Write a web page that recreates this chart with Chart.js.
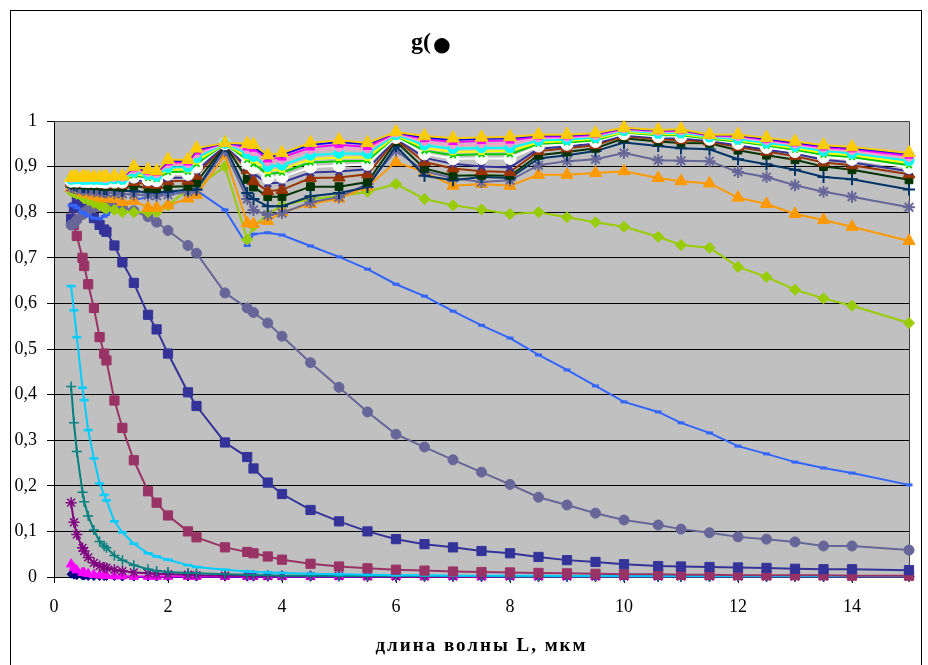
<!DOCTYPE html>
<html>
<head>
<meta charset="utf-8">
<script src="https://cdn.jsdelivr.net/npm/chart.js@4.4.1/dist/chart.umd.min.js"></script>
<style>
  html, body { margin: 0; padding: 0; background: #fff; }
  canvas { display: block; }
</style>
</head>
<body>
<canvas id="chart" width="928" height="665"></canvas>
<script>
// Wavelength grid, µm
const wavelengths = [0.3, 0.35, 0.4, 0.5, 0.53, 0.6, 0.7, 0.8, 0.88, 0.92,
  1.06, 1.2, 1.4, 1.65, 1.8, 2.0, 2.35, 2.5, 3.0, 3.39,
  3.5, 3.75, 4.0, 4.5, 5.0, 5.5, 6.0, 6.5, 7.0, 7.5,
  8.0, 8.5, 9.0, 9.5, 10.0, 10.6, 11.0, 11.5, 12.0, 12.5,
  13.0, 13.5, 14.0, 15.0];

const xTickValues = [0, 2, 4, 6, 8, 10, 12, 14];

// Asymmetry factor g(λ), one array per curve
const gNavyDiamond = [0.006, 0.004, 0.003, 0.002, 0.002, 0.001, 0.001, 0.001, 0.001, 0.001,
  0.001, 0, 0, 0, 0, 0, 0, 0, 0, 0,
  0, 0, 0, 0, 0, 0, 0, 0, 0, 0,
  0, 0, 0, 0, 0, 0, 0, 0, 0, 0,
  0, 0, 0, 0];
const gMagentaTri = [0.028, 0.02, 0.015, 0.01, 0.009, 0.007, 0.005, 0.004, 0.003, 0.003,
  0.002, 0.002, 0.001, 0.001, 0.001, 0.001, 0.001, 0.001, 0.001, 0.001,
  0.001, 0.001, 0.001, 0.001, 0.001, 0.001, 0.001, 0.001, 0.001, 0.001,
  0.001, 0.001, 0.001, 0.001, 0.001, 0.001, 0.001, 0.001, 0.001, 0.001,
  0.001, 0.001, 0.001, 0.001];
const gPurpleStar = [0.163, 0.12, 0.093, 0.064, 0.057, 0.043, 0.031, 0.024, 0.021, 0.02,
  0.016, 0.013, 0.01, 0.008, 0.007, 0.006, 0.005, 0.004, 0.003, 0.003,
  0.003, 0.002, 0.002, 0.002, 0.002, 0.001, 0.001, 0.001, 0.001, 0.001,
  0.001, 0.001, 0.001, 0.001, 0.001, 0.001, 0.001, 0.001, 0.001, 0.001,
  0.001, 0.001, 0.001, 0.001];
const gTealPlus = [0.418, 0.338, 0.275, 0.186, 0.165, 0.134, 0.103, 0.078, 0.068, 0.064,
  0.047, 0.037, 0.026, 0.017, 0.013, 0.011, 0.009, 0.008, 0.006, 0.005,
  0.004, 0.004, 0.003, 0.003, 0.002, 0.002, 0.002, 0.002, 0.002, 0.002,
  0.001, 0.001, 0.001, 0.001, 0.001, 0.001, 0.001, 0.001, 0.001, 0.001,
  0.001, 0.001, 0.001, 0.001];
const gSkyDash = [0.638, 0.585, 0.526, 0.415, 0.388, 0.322, 0.26, 0.205, 0.18, 0.168,
  0.122, 0.098, 0.073, 0.052, 0.045, 0.038, 0.026, 0.022, 0.016, 0.012,
  0.011, 0.01, 0.009, 0.007, 0.006, 0.005, 0.004, 0.004, 0.003, 0.003,
  0.003, 0.003, 0.002, 0.002, 0.002, 0.002, 0.002, 0.002, 0.002, 0.002,
  0.002, 0.002, 0.002, 0.002];
const gPlumSquare = [0.786, 0.772, 0.748, 0.70, 0.682, 0.642, 0.59, 0.526, 0.49, 0.475,
  0.387, 0.327, 0.256, 0.188, 0.163, 0.135, 0.10, 0.087, 0.065, 0.055,
  0.052, 0.045, 0.038, 0.029, 0.023, 0.019, 0.016, 0.014, 0.012, 0.011,
  0.01, 0.009, 0.008, 0.007, 0.006, 0.006, 0.005, 0.005, 0.004, 0.004,
  0.004, 0.004, 0.003, 0.003];
const gNavySquare = [0.785, 0.81, 0.822, 0.818, 0.812, 0.80, 0.787, 0.772, 0.762, 0.757,
  0.727, 0.69, 0.645, 0.575, 0.543, 0.49, 0.405, 0.375, 0.295, 0.263,
  0.238, 0.207, 0.182, 0.147, 0.122, 0.10, 0.083, 0.072, 0.065, 0.057,
  0.052, 0.044, 0.037, 0.033, 0.028, 0.024, 0.023, 0.022, 0.021, 0.02,
  0.018, 0.017, 0.017, 0.015];
const gSlateCircle = [0.772, 0.775, 0.783, 0.795, 0.80, 0.805, 0.81, 0.812, 0.812, 0.812,
  0.812, 0.81, 0.803, 0.79, 0.778, 0.76, 0.727, 0.71, 0.623, 0.59,
  0.58, 0.557, 0.528, 0.47, 0.416, 0.362, 0.313, 0.285, 0.257, 0.23,
  0.203, 0.175, 0.158, 0.14, 0.125, 0.114, 0.105, 0.097, 0.088, 0.083,
  0.077, 0.068, 0.068, 0.059];
const gBlueDash = [0.815, 0.815, 0.81, 0.80, 0.797, 0.792, 0.787, 0.786, 0.791, 0.795,
  0.808, 0.818, 0.826, 0.834, 0.837, 0.84, 0.845, 0.848, 0.805, 0.727,
  0.752, 0.755, 0.75, 0.726, 0.702, 0.675, 0.642, 0.616, 0.583, 0.552,
  0.524, 0.487, 0.454, 0.419, 0.384, 0.362, 0.338, 0.316, 0.287, 0.27,
  0.252, 0.239, 0.228, 0.202];
const gLimeDiamond = [0.846, 0.843, 0.84, 0.833, 0.83, 0.826, 0.82, 0.815, 0.81, 0.808,
  0.805, 0.80, 0.80, 0.80, 0.80, 0.815, 0.85, 0.855, 0.90, 0.74,
  0.77, 0.795, 0.815, 0.829, 0.835, 0.845, 0.862, 0.829, 0.815, 0.806,
  0.796, 0.80, 0.789, 0.778, 0.768, 0.746, 0.728, 0.722, 0.68, 0.658,
  0.63, 0.611, 0.595, 0.557];
const gOrangeTri = [0.853, 0.853, 0.85, 0.845, 0.843, 0.84, 0.836, 0.833, 0.831, 0.83,
  0.829, 0.822, 0.825, 0.81, 0.81, 0.815, 0.83, 0.838, 0.925, 0.776,
  0.774, 0.781, 0.80, 0.818, 0.83, 0.856, 0.91, 0.888, 0.858, 0.862,
  0.858, 0.882, 0.882, 0.886, 0.89, 0.875, 0.868, 0.863, 0.832, 0.818,
  0.796, 0.783, 0.768, 0.737];
const gSlateStar = [0.855, 0.853, 0.852, 0.85, 0.849, 0.848, 0.846, 0.845, 0.844, 0.843,
  0.842, 0.84, 0.839, 0.837, 0.836, 0.838, 0.845, 0.849, 0.935, 0.829,
  0.805, 0.794, 0.798, 0.822, 0.833, 0.862, 0.935, 0.89, 0.875, 0.866,
  0.87, 0.903, 0.912, 0.916, 0.93, 0.914, 0.913, 0.912, 0.888, 0.877,
  0.859, 0.845, 0.834, 0.811];
const gNavyPlus = [0.862, 0.86, 0.858, 0.856, 0.855, 0.854, 0.853, 0.852, 0.851, 0.85,
  0.849, 0.847, 0.846, 0.844, 0.843, 0.845, 0.849, 0.85, 0.945, 0.842,
  0.829, 0.813, 0.813, 0.835, 0.842, 0.855, 0.945, 0.88, 0.87, 0.877,
  0.875, 0.918, 0.925, 0.934, 0.953, 0.945, 0.94, 0.938, 0.916, 0.905,
  0.893, 0.877, 0.872, 0.85];
const gDarkGreen = [0.862, 0.862, 0.861, 0.86, 0.86, 0.859, 0.858, 0.858, 0.857, 0.857,
  0.856, 0.855, 0.858, 0.853, 0.852, 0.856, 0.857, 0.865, 0.948, 0.872,
  0.855, 0.834, 0.834, 0.856, 0.856, 0.866, 0.955, 0.896, 0.88, 0.881,
  0.88, 0.925, 0.932, 0.94, 0.962, 0.955, 0.952, 0.951, 0.936, 0.925,
  0.915, 0.90, 0.893, 0.871];
const gBrown = [0.865, 0.865, 0.864, 0.863, 0.863, 0.863, 0.862, 0.862, 0.861, 0.861,
  0.861, 0.86, 0.866, 0.861, 0.86, 0.868, 0.869, 0.88, 0.949, 0.893,
  0.868, 0.846, 0.849, 0.875, 0.876, 0.883, 0.959, 0.91, 0.896, 0.89,
  0.888, 0.934, 0.94, 0.947, 0.967, 0.96, 0.958, 0.955, 0.943, 0.933,
  0.923, 0.909, 0.903, 0.883];
const gIndigo = [0.866, 0.867, 0.866, 0.865, 0.865, 0.865, 0.864, 0.864, 0.863, 0.863,
  0.863, 0.863, 0.871, 0.866, 0.864, 0.875, 0.876, 0.889, 0.949, 0.899,
  0.885, 0.863, 0.865, 0.887, 0.889, 0.894, 0.962, 0.919, 0.906, 0.90,
  0.898, 0.939, 0.944, 0.951, 0.969, 0.963, 0.962, 0.957, 0.947, 0.937,
  0.928, 0.915, 0.909, 0.89];
const gWhite = [0.868, 0.869, 0.868, 0.868, 0.868, 0.867, 0.867, 0.867, 0.866, 0.866,
  0.866, 0.866, 0.877, 0.871, 0.869, 0.883, 0.883, 0.899, 0.95, 0.907,
  0.897, 0.875, 0.877, 0.899, 0.902, 0.905, 0.964, 0.928, 0.917, 0.918,
  0.918, 0.945, 0.949, 0.955, 0.972, 0.966, 0.966, 0.96, 0.951, 0.942,
  0.933, 0.921, 0.916, 0.898];
const gGreen = [0.87, 0.87, 0.87, 0.869, 0.869, 0.869, 0.868, 0.868, 0.868, 0.868,
  0.869, 0.868, 0.881, 0.875, 0.873, 0.888, 0.889, 0.906, 0.95, 0.915,
  0.906, 0.884, 0.887, 0.909, 0.912, 0.913, 0.967, 0.935, 0.925, 0.927,
  0.927, 0.95, 0.953, 0.958, 0.975, 0.969, 0.969, 0.961, 0.955, 0.946,
  0.937, 0.926, 0.921, 0.903];
const gYellow = [0.871, 0.871, 0.871, 0.871, 0.871, 0.87, 0.87, 0.87, 0.87, 0.87,
  0.87, 0.87, 0.884, 0.878, 0.876, 0.893, 0.894, 0.912, 0.951, 0.921,
  0.914, 0.891, 0.894, 0.916, 0.92, 0.92, 0.968, 0.941, 0.932, 0.933,
  0.934, 0.953, 0.956, 0.961, 0.976, 0.971, 0.971, 0.963, 0.957, 0.949,
  0.94, 0.93, 0.925, 0.908];
const gCyan = [0.872, 0.873, 0.873, 0.872, 0.872, 0.872, 0.872, 0.872, 0.871, 0.871,
  0.873, 0.872, 0.888, 0.882, 0.879, 0.898, 0.899, 0.919, 0.951, 0.928,
  0.922, 0.90, 0.903, 0.925, 0.929, 0.928, 0.97, 0.947, 0.939, 0.941,
  0.941, 0.957, 0.959, 0.964, 0.979, 0.973, 0.974, 0.965, 0.96, 0.952,
  0.944, 0.934, 0.929, 0.913];
const gPink = [0.873, 0.874, 0.874, 0.874, 0.874, 0.874, 0.874, 0.874, 0.873, 0.873,
  0.875, 0.875, 0.892, 0.886, 0.883, 0.904, 0.905, 0.927, 0.951, 0.936,
  0.931, 0.909, 0.913, 0.935, 0.94, 0.937, 0.972, 0.954, 0.947, 0.949,
  0.95, 0.962, 0.963, 0.967, 0.981, 0.976, 0.977, 0.967, 0.964, 0.956,
  0.948, 0.939, 0.934, 0.919];
const gMagenta = [0.875, 0.875, 0.875, 0.875, 0.875, 0.875, 0.875, 0.875, 0.875, 0.875,
  0.877, 0.877, 0.896, 0.889, 0.886, 0.909, 0.909, 0.933, 0.952, 0.942,
  0.939, 0.916, 0.92, 0.942, 0.948, 0.943, 0.974, 0.96, 0.954, 0.956,
  0.957, 0.966, 0.966, 0.97, 0.983, 0.978, 0.979, 0.968, 0.967, 0.959,
  0.951, 0.942, 0.938, 0.924];
const gBlue = [0.875, 0.876, 0.876, 0.876, 0.876, 0.876, 0.876, 0.876, 0.876, 0.876,
  0.878, 0.878, 0.898, 0.891, 0.888, 0.913, 0.913, 0.937, 0.952, 0.947,
  0.944, 0.921, 0.926, 0.948, 0.954, 0.949, 0.975, 0.964, 0.959, 0.961,
  0.962, 0.968, 0.968, 0.972, 0.984, 0.979, 0.981, 0.969, 0.969, 0.961,
  0.953, 0.945, 0.941, 0.928];
const gGold = [0.876, 0.877, 0.877, 0.877, 0.877, 0.877, 0.877, 0.877, 0.877, 0.877,
  0.879, 0.879, 0.90, 0.893, 0.89, 0.915, 0.915, 0.94, 0.952, 0.95,
  0.948, 0.925, 0.93, 0.952, 0.958, 0.952, 0.976, 0.967, 0.962, 0.964,
  0.965, 0.97, 0.97, 0.973, 0.985, 0.98, 0.982, 0.97, 0.97, 0.963,
  0.955, 0.947, 0.943, 0.93];

function series(values, color, pointStyle, radius, markerStroke) {
  return {
    data: values.map((y, i) => ({ x: wavelengths[i], y })),
    borderColor: color,
    backgroundColor: color,
    borderWidth: 2,
    pointStyle,
    pointRadius: radius,
    pointBackgroundColor: color,
    pointBorderColor: color,
    pointBorderWidth: markerStroke || 1,
    tension: 0,
    clip: false
  };
}

// first dataset is painted last (on top)
const datasets = [
  series(gGold, '#FFCC00', 'triangle', 7.5),
  series(gBlue, '#0000FF', 'rectRot', 3),
  series(gMagenta, '#FF00FF', 'triangle', 5),
  series(gPink, '#FF99CC', 'circle', 3.5),
  series(gCyan, '#00FFFF', 'circle', 5),
  series(gYellow, '#FFFF00', 'rect', 4),
  series(gGreen, '#00CC00', 'crossRot', 4, 2),
  series(gWhite, '#FFFFFF', 'circle', 6),
  series(gIndigo, '#333399', 'crossRot', 5, 2),
  series(gBrown, '#993300', 'triangle', 7),
  series(gDarkGreen, '#003300', 'rect', 5.5),
  series(gNavyPlus, '#003366', 'cross', 6, 2),
  series(gSlateStar, '#666699', 'star', 6, 2),
  series(gOrangeTri, '#FF9900', 'triangle', 7),
  series(gLimeDiamond, '#99CC00', 'rectRot', 5.5),
  series(gBlueDash, '#3366FF', 'line', 3.5, 3),
  series(gSlateCircle, '#666699', 'circle', 5),
  series(gNavySquare, '#333399', 'rect', 6.5),
  series(gPlumSquare, '#993366', 'rect', 6.5),
  series(gSkyDash, '#00CCFF', 'line', 4.5, 2.5),
  series(gTealPlus, '#008080', 'cross', 5, 1.5),
  series(gPurpleStar, '#800080', 'star', 5.5, 1.5),
  series(gMagentaTri, '#FF00FF', 'triangle', 5.5),
  series(gNavyDiamond, '#000080', 'rectRot', 4)
];

function decimalComma(v) {
  const r = Math.round(v * 10) / 10;
  if (r === 0) return '0';
  if (r === 1) return '1';
  return r.toFixed(1).replace('.', ',');
}

const frameAndText = {
  id: 'frameAndText',
  beforeDraw(chart) {
    const { ctx, chartArea: a } = chart;
    ctx.save();
    ctx.fillStyle = '#ffffff';
    ctx.fillRect(0, 0, chart.width, chart.height);
    ctx.fillStyle = '#C0C0C0';
    ctx.fillRect(a.left, a.top, a.right - a.left, a.bottom - a.top);
    ctx.restore();
  },
  beforeDatasetsDraw(chart) {
    const { ctx, chartArea: a } = chart;
    ctx.save();
    ctx.strokeStyle = '#404040';
    ctx.lineWidth = 1;
    ctx.beginPath();
    ctx.moveTo(a.left, a.top + 0.5);
    ctx.lineTo(a.right + 0.5, a.top + 0.5);
    ctx.lineTo(a.right + 0.5, a.bottom);
    ctx.stroke();
    ctx.restore();
  },
  afterDraw(chart) {
    const { ctx, chartArea: a } = chart;
    ctx.save();
    // outer chart frame
    ctx.strokeStyle = '#000';
    ctx.lineWidth = 1;
    ctx.strokeRect(10.5, 10.5, 911, 700);
    // chart title
    ctx.fillStyle = '#000';
    ctx.textBaseline = 'alphabetic';
    ctx.textAlign = 'left';
    ctx.font = 'bold 24px "Liberation Serif"';
    ctx.fillText('g(', 411, 49);
    const w = ctx.measureText('g(').width;
    ctx.font = 'bold 36px "Liberation Serif"';
    ctx.fillText('●', 411 + w, 56);
    // x-axis title
    ctx.font = 'bold 19px "Liberation Serif"';
    ctx.textAlign = 'center';
    ctx.letterSpacing = '2px';
    ctx.fillText('длина волны L, мкм', (a.left + a.right) / 2, 651);
    ctx.restore();
  }
};

new Chart(document.getElementById('chart'), {
  type: 'line',
  data: { datasets },
  options: {
    responsive: false,
    animation: false,
    events: [],
    layout: { padding: { left: 0, top: 121, right: 19, bottom: 0 } },
    plugins: {
      legend: { display: false },
      tooltip: { enabled: false },
      title: { display: false }
    },
    scales: {
      x: {
        type: 'linear',
        min: 0,
        max: 15,
        afterBuildTicks: (scale) => { scale.ticks = xTickValues.map(v => ({ value: v })); },
        afterFit: (scale) => { scale.height = 88; },
        grid: { display: true, drawOnChartArea: false, drawTicks: true, tickLength: 6, color: '#000' },
        border: { display: true, color: '#000', width: 1 },
        ticks: {
          color: '#000',
          font: { family: '"Liberation Serif"', size: 18 },
          padding: 13,
          maxRotation: 0,
          autoSkip: false
        }
      },
      y: {
        min: 0,
        max: 1,
        afterFit: (scale) => { scale.width = 54; },
        grid: { color: '#000', lineWidth: 1, tickLength: 7 },
        border: { display: true, color: '#000', width: 1 },
        ticks: {
          stepSize: 0.1,
          color: '#000',
          font: { family: '"Liberation Serif"', size: 18 },
          padding: 10,
          callback: decimalComma
        }
      }
    }
  },
  plugins: [frameAndText]
});
</script>
</body>
</html>
